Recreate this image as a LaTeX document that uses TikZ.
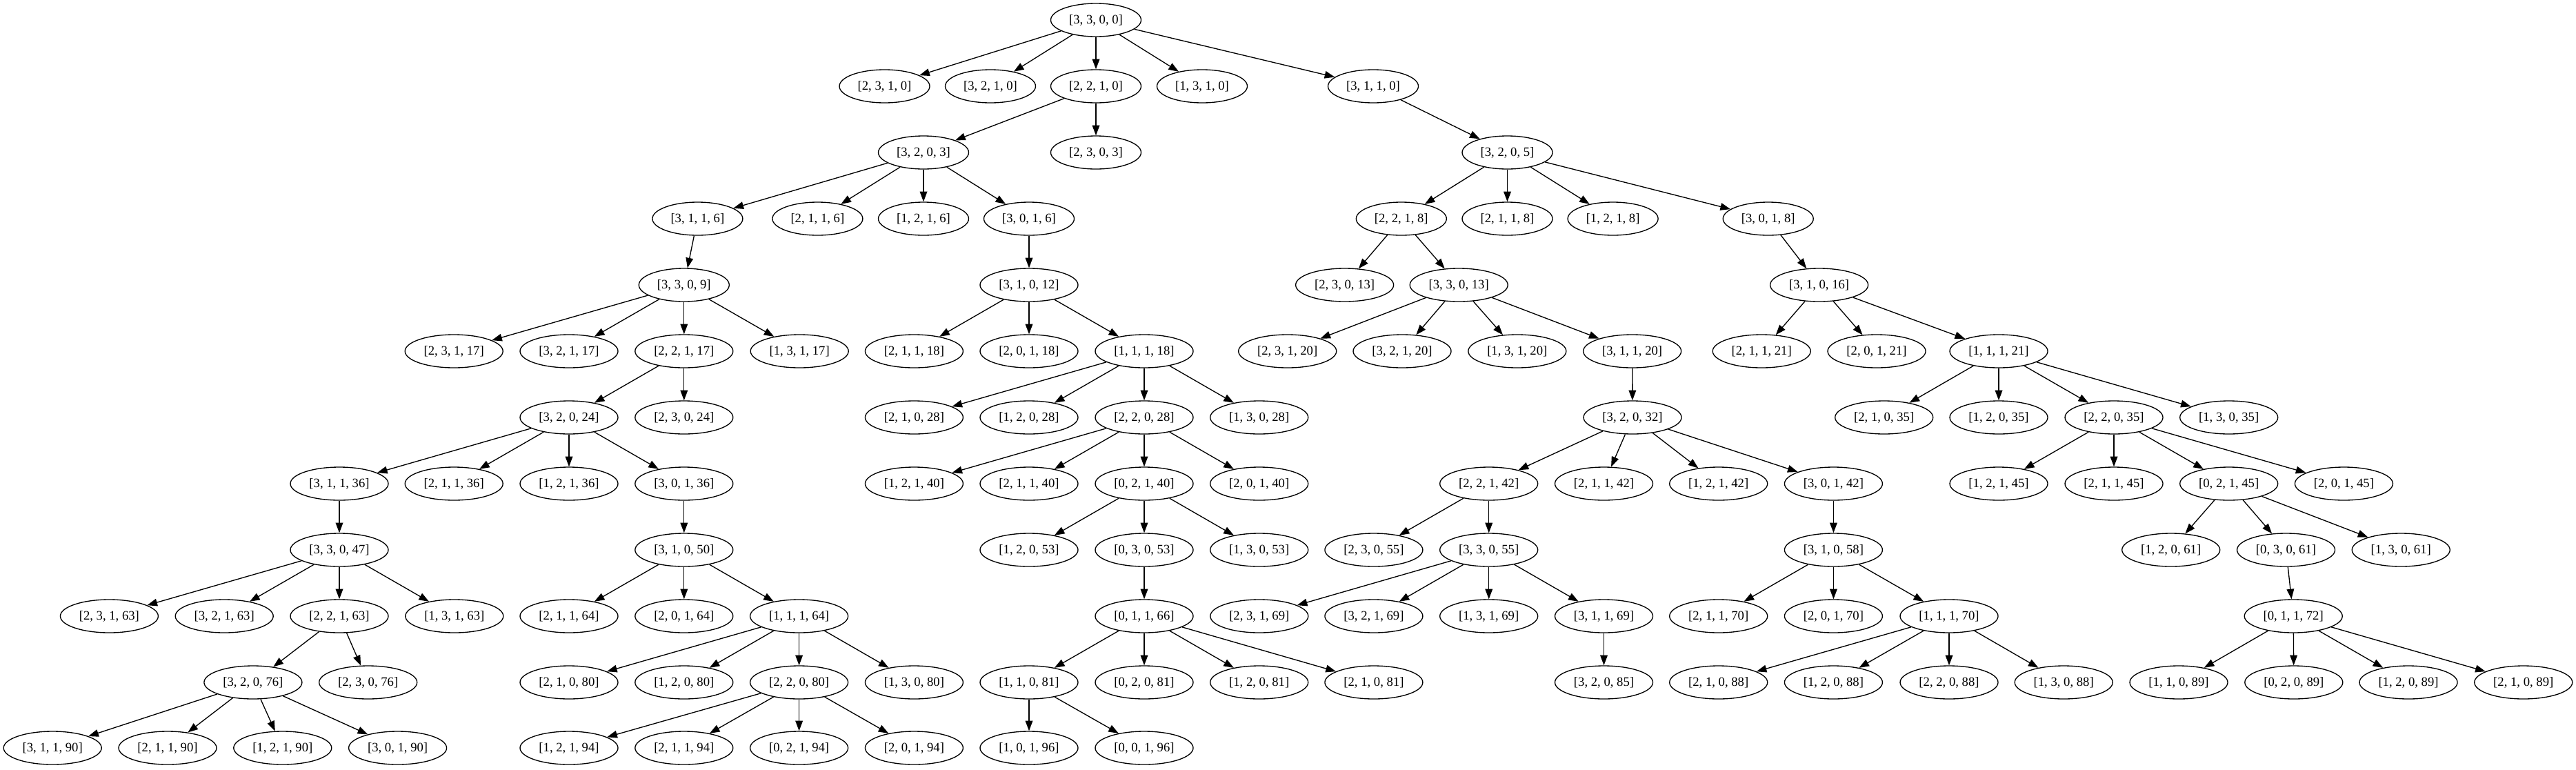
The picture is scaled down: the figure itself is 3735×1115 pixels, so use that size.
\documentclass[tikz,border=0pt]{standalone}
\usepackage{fontspec}
\setmainfont{Liberation Serif}
\usetikzlibrary{shapes.geometric,arrows.meta}
\begin{document}
\begin{tikzpicture}[x=0.75pt,y=-0.75pt,
  sone/.style={ellipse,draw,line width=1pt,minimum width=98.25pt,minimum height=36pt,inner sep=0pt,font=\fontsize{14pt}{16pt}\selectfont},
  stwo/.style={sone,minimum width=106.5pt},
  edg/.style={line width=1pt,-{Triangle[length=11pt,width=8pt]}}]
\useasboundingbox (0,0) rectangle (3735,1115);
% level 0
\node[sone] (n3300) at (1589,29) {[3, 3, 0, 0]};
% level 1
\node[sone] (n2310) at (1282.5,125) {[2, 3, 1, 0]};
\node[sone] (n3210) at (1436,125) {[3, 2, 1, 0]};
\node[sone] (n2210) at (1589,125) {[2, 2, 1, 0]};
\node[sone] (n1310) at (1743,125) {[1, 3, 1, 0]};
\node[sone] (n3110) at (1991,125) {[3, 1, 1, 0]};
% level 2
\node[sone] (n3203) at (1339,221) {[3, 2, 0, 3]};
\node[sone] (n2303) at (1589,221) {[2, 3, 0, 3]};
\node[sone] (n3205) at (2185.5,221) {[3, 2, 0, 5]};
% level 3
\node[sone] (n3116) at (1011.4,317) {[3, 1, 1, 6]};
\node[sone] (n2116) at (1185.4,317) {[2, 1, 1, 6]};
\node[sone] (n1216) at (1339,317) {[1, 2, 1, 6]};
\node[sone] (n3016) at (1492,317) {[3, 0, 1, 6]};
\node[sone] (n2218) at (2031.8,317) {[2, 2, 1, 8]};
\node[sone] (n2118) at (2185.5,317) {[2, 1, 1, 8]};
\node[sone] (n1218) at (2338.6,317) {[1, 2, 1, 8]};
\node[sone] (n3018) at (2563.7,317) {[3, 0, 1, 8]};
% level 4
\node[sone] (n3309) at (991.8,413) {[3, 3, 0, 9]};
\node[stwo] (n31012) at (1492,413) {[3, 1, 0, 12]};
\node[stwo] (n23013) at (1949.6,413) {[2, 3, 0, 13]};
\node[stwo] (n33013) at (2115.2,413) {[3, 3, 0, 13]};
\node[stwo] (n31016) at (2637.6,413) {[3, 1, 0, 16]};
% level 5
\node[stwo] (n23117) at (658.2,509) {[2, 3, 1, 17]};
\node[stwo] (n32117) at (825,509) {[3, 2, 1, 17]};
\node[stwo] (n22117) at (991.8,509) {[2, 2, 1, 17]};
\node[stwo] (n13117) at (1159.2,509) {[1, 3, 1, 17]};
\node[stwo] (n21118) at (1325.4,509) {[2, 1, 1, 18]};
\node[stwo] (n20118) at (1492,509) {[2, 0, 1, 18]};
\node[stwo] (n11118) at (1659,509) {[1, 1, 1, 18]};
\node[stwo] (n23120) at (1866.7,509) {[2, 3, 1, 20]};
\node[stwo] (n32120) at (2033,509) {[3, 2, 1, 20]};
\node[stwo] (n13120) at (2199.8,509) {[1, 3, 1, 20]};
\node[stwo] (n31120) at (2366.6,509) {[3, 1, 1, 20]};
\node[stwo] (n21121) at (2554.2,509) {[2, 1, 1, 21]};
\node[stwo] (n20121) at (2721,509) {[2, 0, 1, 21]};
\node[stwo] (n11121) at (2898,509) {[1, 1, 1, 21]};
% level 6
\node[stwo] (n32024) at (825,605) {[3, 2, 0, 24]};
\node[stwo] (n23024) at (991.8,605) {[2, 3, 0, 24]};
\node[stwo] (n21028) at (1325.4,605) {[2, 1, 0, 28]};
\node[stwo] (n12028) at (1492,605) {[1, 2, 0, 28]};
\node[stwo] (n22028) at (1659,605) {[2, 2, 0, 28]};
\node[stwo] (n13028) at (1825.7,605) {[1, 3, 0, 28]};
\node[stwo] (n32032) at (2367,605) {[3, 2, 0, 32]};
\node[stwo] (n21035) at (2731.7,605) {[2, 1, 0, 35]};
\node[stwo] (n12035) at (2898,605) {[1, 2, 0, 35]};
\node[stwo] (n22035) at (3065,605) {[2, 2, 0, 35]};
\node[stwo] (n13035) at (3231.7,605) {[1, 3, 0, 35]};
% level 7
\node[stwo] (n31136) at (492,701) {[3, 1, 1, 36]};
\node[stwo] (n21136) at (658.2,701) {[2, 1, 1, 36]};
\node[stwo] (n12136) at (825,701) {[1, 2, 1, 36]};
\node[stwo] (n30136) at (991.8,701) {[3, 0, 1, 36]};
\node[stwo] (n12140) at (1325.4,701) {[1, 2, 1, 40]};
\node[stwo] (n21140) at (1492,701) {[2, 1, 1, 40]};
\node[stwo] (n02140) at (1659,701) {[0, 2, 1, 40]};
\node[stwo] (n20140) at (1825.7,701) {[2, 0, 1, 40]};
\node[stwo] (n22142) at (2158.7,701) {[2, 2, 1, 42]};
\node[stwo] (n21142) at (2325.5,701) {[2, 1, 1, 42]};
\node[stwo] (n12142) at (2491.7,701) {[1, 2, 1, 42]};
\node[stwo] (n30142) at (2658.4,701) {[3, 0, 1, 42]};
\node[stwo] (n12145) at (2898,701) {[1, 2, 1, 45]};
\node[stwo] (n21145) at (3065,701) {[2, 1, 1, 45]};
\node[stwo] (n02145) at (3231.7,701) {[0, 2, 1, 45]};
\node[stwo] (n20145) at (3398.4,701) {[2, 0, 1, 45]};
% level 8
\node[stwo] (n33047) at (492,797) {[3, 3, 0, 47]};
\node[stwo] (n31050) at (991.8,797) {[3, 1, 0, 50]};
\node[stwo] (n12053) at (1492,797) {[1, 2, 0, 53]};
\node[stwo] (n03053) at (1659,797) {[0, 3, 0, 53]};
\node[stwo] (n13053) at (1825.7,797) {[1, 3, 0, 53]};
\node[stwo] (n23055) at (1991.9,797) {[2, 3, 0, 55]};
\node[stwo] (n33055) at (2158.7,797) {[3, 3, 0, 55]};
\node[stwo] (n31058) at (2658.4,797) {[3, 1, 0, 58]};
\node[stwo] (n12061) at (3147.7,797) {[1, 2, 0, 61]};
\node[stwo] (n03061) at (3314.5,797) {[0, 3, 0, 61]};
\node[stwo] (n13061) at (3481.2,797) {[1, 3, 0, 61]};
% level 9
\node[stwo] (n23163) at (158.4,893) {[2, 3, 1, 63]};
\node[stwo] (n32163) at (325.2,893) {[3, 2, 1, 63]};
\node[stwo] (n22163) at (492,893) {[2, 2, 1, 63]};
\node[stwo] (n13163) at (658.8,893) {[1, 3, 1, 63]};
\node[stwo] (n21164) at (825,893) {[2, 1, 1, 64]};
\node[stwo] (n20164) at (991.8,893) {[2, 0, 1, 64]};
\node[stwo] (n11164) at (1158.6,893) {[1, 1, 1, 64]};
\node[stwo] (n01166) at (1659,893) {[0, 1, 1, 66]};
\node[stwo] (n23169) at (1825.8,893) {[2, 3, 1, 69]};
\node[stwo] (n32169) at (1991.9,893) {[3, 2, 1, 69]};
\node[stwo] (n13169) at (2158.7,893) {[1, 3, 1, 69]};
\node[stwo] (n31169) at (2325.5,893) {[3, 1, 1, 69]};
\node[stwo] (n21170) at (2491.7,893) {[2, 1, 1, 70]};
\node[stwo] (n20170) at (2658.4,893) {[2, 0, 1, 70]};
\node[stwo] (n11170) at (2826,893) {[1, 1, 1, 70]};
\node[stwo] (n01172) at (3325.2,893) {[0, 1, 1, 72]};
% level 10
\node[stwo] (n32076) at (366.9,989) {[3, 2, 0, 76]};
\node[stwo] (n23076) at (533.7,989) {[2, 3, 0, 76]};
\node[stwo] (n21080) at (825,989) {[2, 1, 0, 80]};
\node[stwo] (n12080) at (991.8,989) {[1, 2, 0, 80]};
\node[stwo] (n22080) at (1158.6,989) {[2, 2, 0, 80]};
\node[stwo] (n13080) at (1325.4,989) {[1, 3, 0, 80]};
\node[stwo] (n11081) at (1492,989) {[1, 1, 0, 81]};
\node[stwo] (n02081) at (1659,989) {[0, 2, 0, 81]};
\node[stwo] (n12081) at (1825.7,989) {[1, 2, 0, 81]};
\node[stwo] (n21081) at (1991.9,989) {[2, 1, 0, 81]};
\node[stwo] (n32085) at (2325.5,989) {[3, 2, 0, 85]};
\node[stwo] (n21088) at (2491.7,989) {[2, 1, 0, 88]};
\node[stwo] (n12088) at (2658.4,989) {[1, 2, 0, 88]};
\node[stwo] (n22088) at (2826,989) {[2, 2, 0, 88]};
\node[stwo] (n13088) at (2992.2,989) {[1, 3, 0, 88]};
\node[stwo] (n11089) at (3159,989) {[1, 1, 0, 89]};
\node[stwo] (n02089) at (3325.8,989) {[0, 2, 0, 89]};
\node[stwo] (n12089) at (3492,989) {[1, 2, 0, 89]};
\node[stwo] (n21089) at (3658.7,989) {[2, 1, 0, 89]};
% level 11
\node[stwo] (n31190) at (76.2,1084) {[3, 1, 1, 90]};
\node[stwo] (n21190) at (243,1084) {[2, 1, 1, 90]};
\node[stwo] (n12190) at (409.8,1084) {[1, 2, 1, 90]};
\node[stwo] (n30190) at (576.6,1084) {[3, 0, 1, 90]};
\node[stwo] (n12194) at (825,1084) {[1, 2, 1, 94]};
\node[stwo] (n21194) at (991.8,1084) {[2, 1, 1, 94]};
\node[stwo] (n02194) at (1158.6,1084) {[0, 2, 1, 94]};
\node[stwo] (n20194) at (1325.4,1084) {[2, 0, 1, 94]};
\node[stwo] (n10196) at (1492,1084) {[1, 0, 1, 96]};
\node[stwo] (n00196) at (1659,1084) {[0, 0, 1, 96]};
% edges
\foreach \p/\c in {n3300/n2310,n3300/n3210,n3300/n2210,n3300/n1310,n3300/n3110,
  n2210/n3203,n2210/n2303,n3110/n3205,
  n3203/n3116,n3203/n2116,n3203/n1216,n3203/n3016,
  n3205/n2218,n3205/n2118,n3205/n1218,n3205/n3018,
  n3116/n3309,n3016/n31012,n2218/n23013,n2218/n33013,n3018/n31016,
  n3309/n23117,n3309/n32117,n3309/n22117,n3309/n13117,
  n31012/n21118,n31012/n20118,n31012/n11118,
  n33013/n23120,n33013/n32120,n33013/n13120,n33013/n31120,
  n31016/n21121,n31016/n20121,n31016/n11121,
  n22117/n32024,n22117/n23024,
  n11118/n21028,n11118/n12028,n11118/n22028,n11118/n13028,
  n31120/n32032,
  n11121/n21035,n11121/n12035,n11121/n22035,n11121/n13035,
  n32024/n31136,n32024/n21136,n32024/n12136,n32024/n30136,
  n22028/n12140,n22028/n21140,n22028/n02140,n22028/n20140,
  n32032/n22142,n32032/n21142,n32032/n12142,n32032/n30142,
  n22035/n12145,n22035/n21145,n22035/n02145,n22035/n20145,
  n31136/n33047,n30136/n31050,
  n02140/n12053,n02140/n03053,n02140/n13053,
  n22142/n23055,n22142/n33055,n30142/n31058,
  n02145/n12061,n02145/n03061,n02145/n13061,
  n33047/n23163,n33047/n32163,n33047/n22163,n33047/n13163,
  n31050/n21164,n31050/n20164,n31050/n11164,
  n03053/n01166,
  n33055/n23169,n33055/n32169,n33055/n13169,n33055/n31169,
  n31058/n21170,n31058/n20170,n31058/n11170,
  n03061/n01172,
  n22163/n32076,n22163/n23076,
  n11164/n21080,n11164/n12080,n11164/n22080,n11164/n13080,
  n01166/n11081,n01166/n02081,n01166/n12081,n01166/n21081,
  n31169/n32085,
  n11170/n21088,n11170/n12088,n11170/n22088,n11170/n13088,
  n01172/n11089,n01172/n02089,n01172/n12089,n01172/n21089,
  n32076/n31190,n32076/n21190,n32076/n12190,n32076/n30190,
  n22080/n12194,n22080/n21194,n22080/n02194,n22080/n20194,
  n11081/n10196,n11081/n00196}
  \draw[edg] (\p) -- (\c);
\end{tikzpicture}
\end{document}
